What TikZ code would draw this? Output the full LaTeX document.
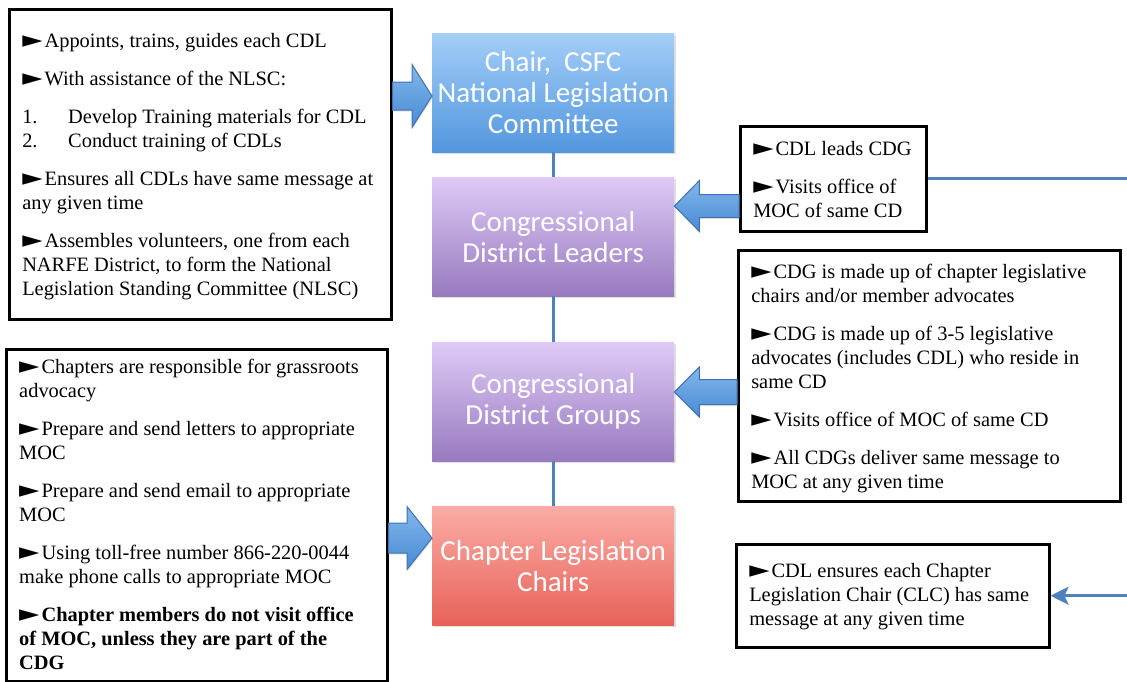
\documentclass[tikz,border=0pt]{standalone}
\usepackage{fontspec}
\usepackage{graphicx}
\setmainfont{Liberation Serif}
\newfontfamily\boxfont{Carlito}
\newfontfamily\trifont{DejaVu Sans}
\usetikzlibrary{calc,arrows.meta,shadows}
\definecolor{linkblue}{RGB}{79,129,189}
\definecolor{arrowtop}{RGB}{130,183,235}
\definecolor{arrowbot}{RGB}{72,138,212}
\definecolor{arrowedge}{RGB}{65,113,180}
\definecolor{bluetop}{RGB}{163,206,248}
\definecolor{bluebot}{RGB}{82,150,222}
\definecolor{purptop}{RGB}{222,202,246}
\definecolor{purpbot}{RGB}{152,122,192}
\definecolor{redtop}{RGB}{251,172,166}
\definecolor{redbot}{RGB}{231,98,88}
\tikzset{
  rolebox/.style={anchor=north west, minimum width=242pt, minimum height=119pt,
    inner sep=2pt, align=center, text=white,
    font=\boxfont\fontsize{29}{31}\selectfont,
    drop shadow={shadow xshift=1.5pt, shadow yshift=-1.5pt, opacity=0.25}},
  notebox/.style={draw, line width=2.5pt, anchor=north west, inner xsep=13pt, inner ysep=0pt,
    font=\fontsize{20.4}{24}\selectfont},
  link/.style={draw=linkblue, line width=3pt},
  arrowbody/.style={top color=arrowtop, bottom color=arrowbot, draw=arrowedge, line width=1pt,
    drop shadow={shadow xshift=1pt, shadow yshift=-1.5pt, opacity=0.2}}
}
% bullet mark
\newcommand{\tri}{{\trifont\fontsize{23}{24}\selectfont\scalebox{1.15}[1]{►}}\hspace{2pt}}
% block arrow: start, tip, head offset, shaft half, head half
\newcommand{\blockarrow}[5]{%
  \path[arrowbody] ($(#1)+(0,#4)$) -- ($(#2)+(#3,#4)$) -- ($(#2)+(#3,#5)$) -- (#2)
    -- ($(#2)+(#3,-#5)$) -- ($(#2)+(#3,-#4)$) -- ($(#1)+(0,-#4)$) -- cycle;}
% text inside a note box: width, height, top pad, text
\newcommand{\notetext}[4]{\parbox[c][#2pt][t]{#1pt}{\raggedright\setlength{\parskip}{14pt}\vspace*{#3pt}#4}}
\begin{document}
\begin{tikzpicture}[x=1pt,y=-1pt]
  \useasboundingbox (0,0) rectangle (1127,681);
  % main chain
  \node[rolebox, top color=bluetop, bottom color=bluebot] (chair) at (432,33) {Chair,\ \ CSFC\\National Legislation\\Committee};
  \node[rolebox, top color=purptop, bottom color=purpbot] (cdl) at (432,177) {Congressional\\District Leaders};
  \node[rolebox, top color=purptop, bottom color=purpbot] (cdg) at (432,342) {Congressional\\District Groups};
  \node[rolebox, top color=redtop, bottom color=redbot] (clc) at (432,506) {Chapter Legislation\\Chairs};
  \draw[link] (chair) -- (cdl);
  \draw[link] (cdl) -- (cdg);
  \draw[link] (cdg) -- (clc);
  % note boxes
  \node[notebox] (lead) at (8,8) {\notetext{356}{310}{10}{%
    \tri Appoints, trains, guides each CDL\par
    \tri With assistance of the NLSC:\par
    \makebox[46pt][l]{1.}Develop Training materials for CDL\\
    \makebox[46pt][l]{2.}Conduct training of CDLs\par
    \tri Ensures all CDLs have same message at\\any given time\par
    \tri Assembles volunteers, one from each\\NARFE District, to form the National\\Legislation Standing Committee (NLSC)}};
  \node[notebox] (cdlnote) at (739,125) {\notetext{160}{105}{1}{%
    \tri CDL leads CDG\par
    \tri Visits office of\\MOC of same CD}};
  \node[notebox] (cdgnote) at (737,249) {\notetext{356}{251}{0}{%
    \tri CDG is made up of chapter legislative\\chairs and/or member advocates\par
    \tri CDG is made up of 3-5 legislative\\advocates (includes CDL) who reside in\\same CD\par
    \tri Visits office of MOC of same CD\par
    \tri All CDGs deliver same message to\\MOC at any given time}};
  \node[notebox] (clcnote) at (735,543) {\notetext{287}{103}{5}{%
    \tri CDL ensures each Chapter\\Legislation Chair (CLC) has same\\message at any given time}};
  \node[notebox] (chapnote) at (5,348) {\notetext{355}{332}{-4}{%
    \tri Chapters are responsible for grassroots\\advocacy\par
    \tri Prepare and send letters to appropriate\\MOC\par
    \tri Prepare and send email to appropriate\\MOC\par
    \tri Using toll-free number 866-220-0044\\make phone calls to appropriate MOC\par
    \textbf{\tri Chapter members do not visit office\\of MOC, unless they are part of the\\CDG}}};
  % block arrows
  \blockarrow{lead.east |- 0,96}{chair.west |- 0,96}{-20}{14}{31.5}
  \blockarrow{cdlnote.west |- 0,206}{cdl.east |- 0,206}{25}{11.5}{25.5}
  \blockarrow{cdgnote.west |- 0,392}{cdg.east |- 0,392}{25}{12.5}{25}
  \blockarrow{chapnote.east |- 0,538}{clc.west |- 0,538}{-25}{15}{31.5}
  % lines leaving the picture
  \coordinate (outtop) at (1127,177);
  \coordinate (outbot) at (1127,595);
  \draw[link] (cdlnote.east) -- (outtop |- cdlnote.east);
  \draw[link, -{Stealth[length=18pt,width=18pt,inset=4pt]}] (outbot |- clcnote.east) -- (clcnote.east);
\end{tikzpicture}
\end{document}
